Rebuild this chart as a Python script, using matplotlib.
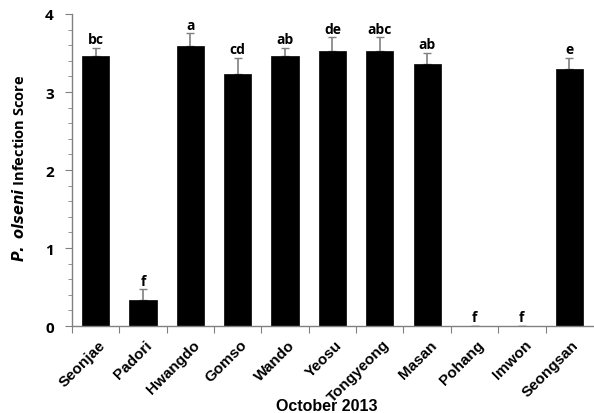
import matplotlib
matplotlib.use("Agg")
import matplotlib.pyplot as plt
import numpy as np

sites = ["Seonjae", "Padori", "Hwangdo", "Gomso", "Wando", "Yeosu",
         "Tongyeong", "Masan", "Pohang", "Imwon", "Seongsan"]
scores = [3.46, 0.34, 3.59, 3.23, 3.46, 3.53, 3.53, 3.355, 0.0, 0.0, 3.30]
errors = [0.11, 0.13, 0.16, 0.21, 0.11, 0.17, 0.17, 0.145, 0.0, 0.0, 0.14]
letters = ["bc", "f", "a", "cd", "ab", "de", "abc", "ab", "f", "f", "e"]

plt.rcParams['font.family'] = ['Liberation Sans', 'DejaVu Sans']

fig = plt.figure(figsize=(5.94, 4.14), dpi=100)
ax = fig.add_axes([0.1212, 0.21, 0.877, 0.7538])

x = np.arange(len(sites)) + 0.5
ax.bar(x, scores, width=0.575, color='black', edgecolor='black', linewidth=0.5, zorder=2)
ax.errorbar(x, scores, yerr=[np.zeros(len(errors)), errors], fmt='none',
            ecolor='#808080', elinewidth=1.2, capsize=3, capthick=1.0, zorder=1)
for xi, s, e, l in zip(x, scores, errors, letters):
    ax.text(xi, s + e + 0.02, l, ha='center', va='bottom', fontsize=10,
            fontweight='bold', family=['Open Sans', 'DejaVu Sans'], color='black')

ax.set_xlim(0, 11)
ax.set_ylim(0, 4)
ax.set_yticks([0, 1, 2, 3, 4])
ax.set_yticks(np.arange(0, 4.01, 0.2), minor=True)
ax.set_yticklabels(['0', '1', '2', '3', '4'], fontsize=11, fontweight='bold',
                   family=['Open Sans', 'DejaVu Sans'])
ax.set_xticks(np.arange(0, 11))
ax.set_xticklabels([])
ax.set_xticks(x + 0.05, minor=True)
ax.set_xticklabels(sites, minor=True, rotation=45, ha='right', rotation_mode='anchor',
                   fontsize=11, fontweight='bold')
ax.tick_params(axis='x', which='minor', length=0, pad=8)
ax.tick_params(axis='x', which='major', length=5, direction='out', color='#808080')
ax.tick_params(axis='y', which='major', length=5, direction='out', color='#808080', pad=8)
ax.tick_params(axis='y', which='minor', length=3, direction='out', color='#808080')

for sp in ['top', 'right']:
    ax.spines[sp].set_visible(False)
for sp in ['left', 'bottom']:
    ax.spines[sp].set_color('#808080')
    ax.spines[sp].set_linewidth(1.0)

fig.text(0.5505, 0.019, 'October 2013', fontsize=11.5, fontweight='bold',
         ha='center', va='center')
fig.text(0.032, 0.594, r'$\bfit{P.\ olseni}$ Infection Score', fontsize=10.5,
         fontweight='bold', family=['Open Sans', 'DejaVu Sans'],
         rotation=90, ha='center', va='center')

fig.savefig('out.png', dpi=100)
